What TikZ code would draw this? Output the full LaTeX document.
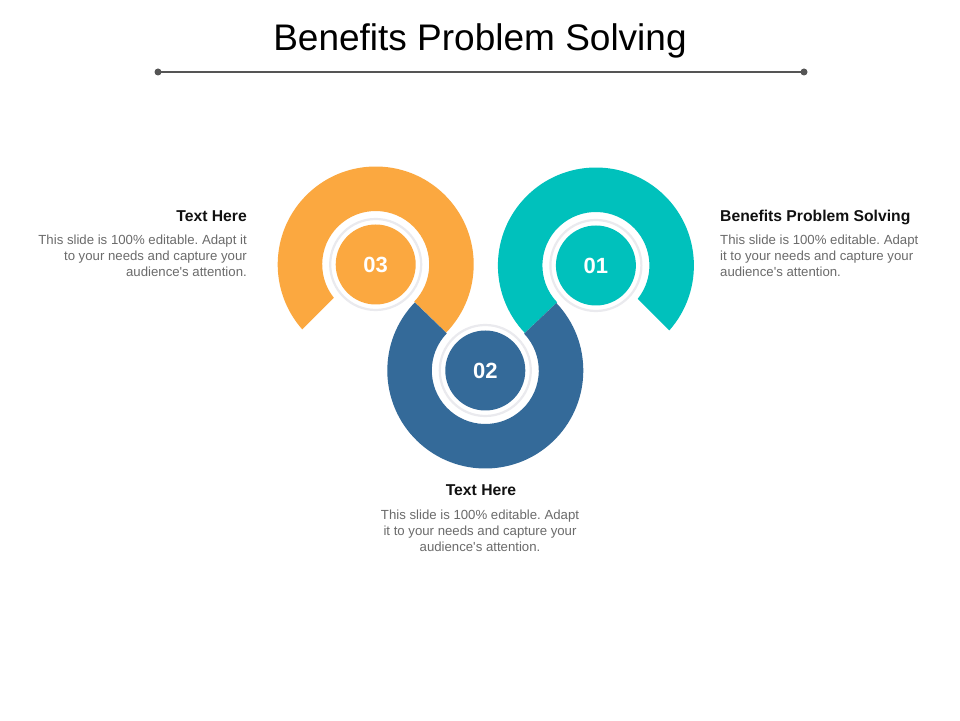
\documentclass[tikz,border=0pt]{standalone}
\usepackage{fontspec}
\setmainfont{Liberation Sans}
\usetikzlibrary{calc}
\definecolor{orangec}{HTML}{FBA840}
\definecolor{tealc}{HTML}{00C1BC}
\definecolor{bluec}{HTML}{346A99}
\definecolor{linec}{HTML}{555555}
\definecolor{bodyc}{HTML}{6B6B6B}
\definecolor{headc}{HTML}{111111}
\definecolor{ringc}{HTML}{EAEAEE}
\frenchspacing
\tikzset{
  heading/.style={font=\fontsize{15.7}{18}\selectfont\bfseries, text=headc, inner sep=0pt},
  bodytext/.style={font=\fontsize{13.2}{16}\selectfont, text=bodyc, inner sep=0pt},
  numtext/.style={font=\fontsize{22}{24}\selectfont\bfseries, text=white, inner sep=0pt},
  halo/.style={draw=ringc, line width=2.2pt},
}
\begin{document}
\begin{tikzpicture}[x=1pt,y=1pt]
\useasboundingbox (0,0) rectangle (960,720);
\fill[white] (0,0) rectangle (960,720);

% title
\node[font=\fontsize{37}{40}\selectfont, text=black, inner sep=0pt] (title) at (480,679) {Benefits Problem Solving};
\coordinate (la) at (158,648);
\coordinate (lb) at (804,648);
\draw[linec, line width=1.3pt] (la) -- (lb);
\fill[linec] (la) circle (3.5);
\fill[linec] (lb) circle (3.5);

% centers
\coordinate (O) at (375.7,455.5);
\coordinate (T) at (595.9,454.5);
\coordinate (B) at (485.3,349.5);

% orange ring
\fill[orangec] ($(O)+(-44:98)$) arc[start angle=-44, end angle=221.5, radius=98]
  -- ($(O)+(218.5:53.5)$) arc[start angle=218.5, end angle=-44, radius=53.5] -- cycle;
% teal ring
\fill[tealc] ($(T)+(-41.5:98)$) arc[start angle=-41.5, end angle=223.5, radius=98]
  -- ($(T)+(223.5:53.5)$) arc[start angle=223.5, end angle=-38.5, radius=53.5] -- cycle;
% blue ring
\fill[bluec] ($(B)+(136:98)$) arc[start angle=136, end angle=403.5, radius=98]
  -- ($(B)+(43.5:53.5)$) arc[start angle=43.5, end angle=-224, radius=53.5] -- cycle;

% halos and inner disks
\draw[halo] (O) circle (45.5);
\draw[halo] (T) circle (45.5);
\draw[halo] (B) circle (45.5);
\fill[orangec] (O) circle (40);
\fill[tealc] (T) circle (40);
\fill[bluec] (B) circle (40);
\node[numtext] (n3) at (O) {03};
\node[numtext] (n1) at (T) {01};
\node[numtext] (n2) at (B) {02};

% left text
\node[heading, anchor=base east] (lh) at (247,498.5) {Text Here};
\node[bodytext, anchor=east, align=right] (lb1) at (247,464.5) {This slide is 100\% editable. Adapt it\\to your needs and capture your\\audience\textquotesingle s attention.};
% right text
\node[heading, anchor=base west] (rh) at (720,498.5) {Benefits Problem Solving};
\node[bodytext, anchor=west, align=left] (rb1) at (720,464.5) {This slide is 100\% editable. Adapt\\it to your needs and capture your\\audience\textquotesingle s attention.};
% bottom text
\node[heading, anchor=base] (bh) at (481,224.5) {Text Here};
\node[bodytext, align=center] (bb1) at (480,189.5) {This slide is 100\% editable. Adapt\\it to your needs and capture your\\audience\textquotesingle s attention.};
\end{tikzpicture}
\end{document}
